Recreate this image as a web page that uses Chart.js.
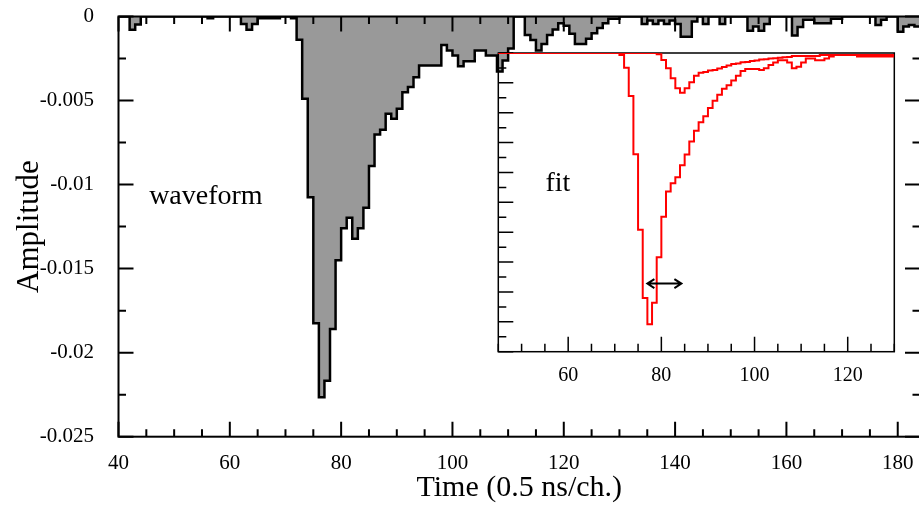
<!DOCTYPE html>
<html>
<head>
<meta charset="utf-8">
<script src="https://cdn.jsdelivr.net/npm/chart.js@4"></script>
<style>
html, body { margin: 0; padding: 0; background: #fff; overflow: hidden; }
#wrap { position: relative; width: 919px; height: 505px; overflow: hidden; }
#wrap canvas { position: absolute; left: 0; top: 0; }
</style>
</head>
<body>
<div id="wrap">
  <canvas id="main" width="925" height="505"></canvas>
  <canvas id="inset" width="925" height="505"></canvas>
</div>
<script>
// waveform: one amplitude per channel, first channel = waveStart
var waveStart = 40;
var waveform = [
  0, 0, -0.00079, -0.00048, 0, 0, 0, 0, 0, 0,
  0, 0, 0, 0, 0, 0, -0.0001, 0, 0, 0,
  0, 0, -0.00044, -0.00079, -0.00044, -0.0001, -0.0001, -0.0001, -0.0001, 0,
  0, -0.0001, -0.00139, -0.0049, -0.01075, -0.01825, -0.02266, -0.02167, -0.01859, -0.0145,
  -0.0126, -0.01198, -0.01323, -0.0126, -0.01138, -0.0089, -0.00702, -0.00674, -0.00579, -0.00609,
  -0.00549, -0.0045, -0.0042, -0.00361, -0.00292, -0.00292, -0.00292, -0.00292, -0.00169, -0.00202,
  -0.00232, -0.00296, -0.00266, -0.00266, -0.00202, -0.00202, -0.00232, -0.00232, -0.00327, -0.00262,
  -0.0019, 0, 0, -0.0011, -0.0014, -0.00202, -0.00163, -0.0011, -0.00078, -0.0004,
  -0.00055, -0.00103, -0.00163, -0.00163, -0.00133, -0.001, -0.00068, -0.0004, -0.00014, -0.00014,
  0, 0, 0, 0, -0.00044, -0.00024, -0.00044, -0.00024, -0.00044, -0.00024,
  -0.00044, -0.0012, -0.0012, -0.0003, 0, -0.00044, 0, 0, -0.00044, 0,
  0, 0, 0, -0.00085, -0.0006, -0.00085, -0.00044, 0, 0, 0,
  0, -0.00113, -0.00063, -0.0002, -0.0002, -0.0004, -0.0004, -0.0004, -0.00014, -0.00014,
  0, 0, 0, 0, 0, 0, -0.0005, -0.0002, 0, 0,
  -0.0009, -0.0006, -0.0005, -0.0006
];

// fit components shown in the inset, first channel = fitStart
var fitStart = 45;
var fitPulse = [
  0, 0, 0, 0, 0, 0, 0, 0, 0, 0,
  0, 0, 0, 0, 0, 0, 0, 0, 0, 0,
  0, 0, 0, 0, 0, 0, -0.00017, -0.00123, -0.0036, -0.00848,
  -0.0148, -0.0205, -0.0227, -0.0209, -0.0171, -0.0137, -0.0116, -0.0109, -0.0104, -0.0094,
  -0.0085, -0.0074, -0.0065, -0.0058, -0.0053, -0.0046, -0.004, -0.0035, -0.003, -0.0027,
  -0.0023, -0.0019, -0.0015, -0.00134, -0.00134, -0.00134, -0.00142, -0.00128, -0.001, -0.0008,
  -0.0006, -0.0006, -0.0008, -0.00128, -0.00115, -0.0008, -0.00045, -0.00045, -0.0006, -0.0006,
  -0.00045, -0.0003, -0.00017, -0.00017, -0.00017, -0.00017, -0.00017, -0.0003, -0.0003, -0.0003,
  -0.0003, -0.0003, -0.0003, -0.0003, -0.0003
];
var fitSmall = [
  0, 0, 0, 0, 0, 0, 0, 0, 0, 0,
  0, 0, 0, 0, 0, 0, 0, 0, 0, 0,
  0, 0, 0, 0, 0, 0, 0, 0, 0, 0,
  0, 0, 0, 0, -0.0001, -0.00059, -0.00128, -0.00212, -0.00296, -0.00332,
  -0.00296, -0.00245, -0.0019, -0.00165, -0.00158, -0.00147, -0.00142, -0.0013, -0.00118, -0.00105,
  -0.00092, -0.00087, -0.00078, -0.00075, -0.00066, -0.00062, -0.00055, -0.00052, -0.00046, -0.00044,
  -0.0004, -0.00036, -0.00033, -0.00025, -0.00025, -0.00025, -0.00025, -0.00025, -0.00025, -0.00017,
  -0.00017, -0.00017, -0.00017, -0.00017, -0.00017, -0.00017, -0.00017, -0.00017, -0.00017, -0.00017,
  -0.00017, -0.00017, -0.00017, -0.00017, -0.00017
];

var xTicks = [40, 60, 80, 100, 120, 140, 160, 180];
var xTickLabels = ["40", "60", "80", "100", "120", "140", "160", "180"];
var yTicks = [-0.025, -0.02, -0.015, -0.01, -0.005, 0];
var yTickLabels = ["-0.025", "-0.02", "-0.015", "-0.01", "-0.005", "0"];
var insetTicks = [60, 80, 100, 120];
var insetTickLabels = ["60", "80", "100", "120"];
var arrowX = [77, 84.3];
var arrowY = -0.0193;

var serif = "'Liberation Serif', 'Times New Roman', serif";

// histogram bins: value i covers [start + i, start + i + 1)
function steps(start, values) {
  var pts = values.map(function (v, i) { return { x: start + i, y: v }; });
  pts.push({ x: start + values.length, y: values[values.length - 1] });
  return pts;
}

function isMajor(v, major) {
  var r = v / major;
  return Math.abs(r - Math.round(r)) < 1e-6;
}

function noEdgePadding(s) {
  s.paddingTop = 0; s.paddingBottom = 0; s.paddingLeft = 0; s.paddingRight = 0;
}

// ROOT-like frame with ticks pointing into the pad
function frameTicks(chart, o) {
  var ctx = chart.ctx, a = chart.chartArea;
  var sx = chart.scales.x, sy = chart.scales.y;
  ctx.save();
  ctx.strokeStyle = '#000';
  ctx.lineWidth = o.width;
  ctx.strokeRect(a.left, a.top, a.right - a.left, a.bottom - a.top);
  ctx.beginPath();
  var n = Math.round((sx.max - o.xFrom) / o.xMinor);
  for (var i = 0; i <= n; i++) {
    var v = o.xFrom + i * o.xMinor;
    if (v > sx.max) break;
    var len = isMajor(v, o.xMajor) ? o.big : o.small;
    var px = sx.getPixelForValue(v);
    ctx.moveTo(px, a.bottom); ctx.lineTo(px, a.bottom - len);
    if (o.all) { ctx.moveTo(px, a.top); ctx.lineTo(px, a.top + len); }
  }
  var m = Math.round((sy.max - sy.min) / o.yMinor);
  for (var j = 0; j <= m; j++) {
    var w = sy.min + j * o.yMinor;
    var ylen = isMajor(w, o.yMajor) ? o.big : o.small;
    var py = sy.getPixelForValue(w);
    ctx.moveTo(a.left, py); ctx.lineTo(a.left + ylen, py);
    if (o.all) { ctx.moveTo(a.right, py); ctx.lineTo(a.right - ylen, py); }
  }
  ctx.stroke();
  ctx.restore();
}

function labelAt(chart, text, x, y, size) {
  var ctx = chart.ctx;
  ctx.save();
  ctx.fillStyle = '#000';
  ctx.font = size + 'px ' + serif;
  ctx.textAlign = 'center';
  ctx.textBaseline = 'middle';
  ctx.fillText(text, chart.scales.x.getPixelForValue(x), chart.scales.y.getPixelForValue(y));
  ctx.restore();
}

var mainDecor = {
  id: 'mainDecor',
  afterDatasetsDraw: function (chart) {
    frameTicks(chart, { width: 2, xFrom: 40, xMinor: 5, xMajor: 20, yMinor: 0.0025, yMajor: 0.005, big: 15, small: 7.5, all: true });
    labelAt(chart, 'waveform', 55.7, -0.0107, 28);
  }
};

var insetDecor = {
  id: 'insetDecor',
  beforeDatasetsDraw: function (chart) {
    frameTicks(chart, { width: 1.5, xFrom: 45, xMinor: 5, xMajor: 20, yMinor: 0.00125, yMajor: 0.0025, big: 15, small: 8, all: false });
  },
  afterDatasetsDraw: function (chart) {
    var ctx = chart.ctx, sx = chart.scales.x, sy = chart.scales.y;
    var x0 = sx.getPixelForValue(arrowX[0]), x1 = sx.getPixelForValue(arrowX[1]);
    var y = sy.getPixelForValue(arrowY);
    ctx.save();
    ctx.strokeStyle = '#000';
    ctx.lineWidth = 2;
    ctx.beginPath();
    ctx.moveTo(x0, y); ctx.lineTo(x1, y);
    ctx.moveTo(x0 + 7, y - 4.5); ctx.lineTo(x0, y); ctx.lineTo(x0 + 7, y + 4.5);
    ctx.moveTo(x1 - 7, y - 4.5); ctx.lineTo(x1, y); ctx.lineTo(x1 - 7, y + 4.5);
    ctx.stroke();
    ctx.restore();
    labelAt(chart, 'fit', 57.8, -0.0109, 28);
  }
};

new Chart(document.getElementById('main'), {
  type: 'line',
  data: {
    datasets: [{
      data: steps(waveStart, waveform),
      stepped: 'before',
      borderColor: '#000',
      borderWidth: 2.5,
      backgroundColor: '#999999',
      fill: 'origin',
      pointRadius: 0
    }]
  },
  options: {
    responsive: false,
    animation: false,
    events: [],
    layout: { padding: { left: 0, top: 16.5, right: 5, bottom: 0 } },
    plugins: { legend: { display: false }, tooltip: { enabled: false } },
    scales: {
      x: {
        type: 'linear', min: 40, max: 184,
        grid: { display: false }, border: { display: false },
        afterBuildTicks: function (s) { s.ticks = xTicks.map(function (v) { return { value: v }; }); },
        afterFit: function (s) { s.height = 68.3; noEdgePadding(s); },
        ticks: {
          color: '#000', padding: 6, maxRotation: 0, autoSkip: false,
          font: { family: serif, size: 21 },
          callback: function (v, i) { return xTickLabels[i]; }
        },
        title: {
          display: true, text: 'Time (0.5 ns/ch.)', color: '#000',
          font: { family: serif, size: 30, lineHeight: 1 },
          padding: { top: 0, bottom: 2 }
        }
      },
      y: {
        type: 'linear', min: -0.025, max: 0,
        grid: { display: false }, border: { display: false },
        afterBuildTicks: function (s) { s.ticks = yTicks.map(function (v) { return { value: v }; }); },
        afterFit: function (s) { s.width = 118.5; noEdgePadding(s); },
        ticks: {
          color: '#000', padding: 16.5,
          font: { family: serif, size: 21 },
          callback: function (v, i) { return yTickLabels[i]; }
        },
        title: {
          display: true, text: 'Amplitude', color: '#000',
          font: { family: serif, size: 31, lineHeight: 1 },
          padding: { top: 14.5, bottom: 0 }
        }
      }
    }
  },
  plugins: [mainDecor]
});

new Chart(document.getElementById('inset'), {
  type: 'line',
  data: {
    datasets: [{
      data: steps(fitStart, fitPulse),
      stepped: 'before', borderColor: '#ff0000', borderWidth: 2, fill: false, pointRadius: 0
    }, {
      data: steps(fitStart, fitSmall),
      stepped: 'before', borderColor: '#ff0000', borderWidth: 2, fill: false, pointRadius: 0
    }]
  },
  options: {
    responsive: false,
    animation: false,
    events: [],
    layout: { padding: { left: 498.3, top: 53, right: 30.7, bottom: 113.3 } },
    plugins: { legend: { display: false }, tooltip: { enabled: false } },
    scales: {
      x: {
        type: 'linear', min: 45, max: 130,
        grid: { display: false }, border: { display: false },
        afterBuildTicks: function (s) { s.ticks = insetTicks.map(function (v) { return { value: v }; }); },
        afterFit: function (s) { s.height = 40; noEdgePadding(s); },
        ticks: {
          color: '#000', padding: 4.3, maxRotation: 0, autoSkip: false,
          font: { family: serif, size: 20 },
          callback: function (v, i) { return insetTickLabels[i]; }
        }
      },
      y: { type: 'linear', min: -0.025, max: 0, display: false }
    }
  },
  plugins: [insetDecor]
});
</script>
</body>
</html>
